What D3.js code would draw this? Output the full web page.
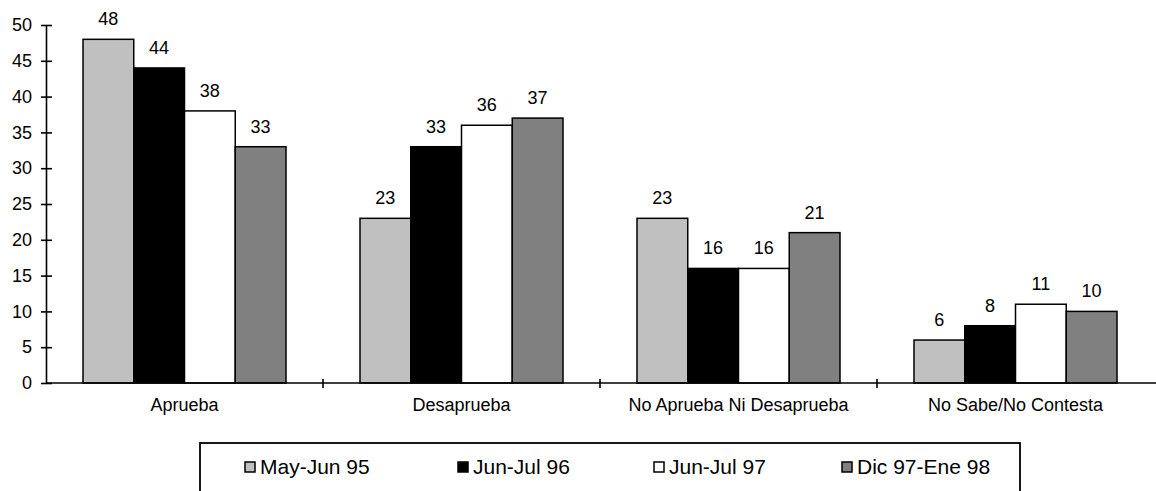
<!DOCTYPE html>
<html><head><meta charset="utf-8">
<script src="https://cdn.jsdelivr.net/npm/d3@7"></script>
<style>body{margin:0;background:#fff}svg{display:block;font-family:"Liberation Sans",Arial,sans-serif}</style>
</head><body>
<svg id="c" width="1156" height="491"></svg>
<script>
const categories = ["Aprueba","Desaprueba","No Aprueba Ni Desaprueba","No Sabe/No Contesta"];
const seriesNames = ["May-Jun 95","Jun-Jul 96","Jun-Jul 97","Dic 97-Ene 98"];
const seriesColors = ["#c0c0c0","#000000","#ffffff","#808080"];
const mayJun95 = [48,23,23,6];
const junJul96 = [44,33,16,8];
const junJul97 = [38,36,16,11];
const dic97Ene98 = [33,37,21,10];
const yTicks = [0,5,10,15,20,25,30,35,40,45,50];
const seriesValues = [mayJun95,junJul96,junJul97,dic97Ene98];

const svg = d3.select("#c");
const x = d3.scaleBand().domain(categories).range([46,1154]).padding(0);
const bw = x.bandwidth();
const xi = d3.scaleBand().domain(seriesNames).range([37, bw-37]).padding(0);
const y = d3.scaleLinear().domain([0,50]).range([383,25]);

// bars
categories.forEach((c,ci)=>{
  const g = svg.append("g").attr("transform",`translate(${x(c)},0)`);
  seriesNames.forEach((s,si)=>{
    const v = seriesValues[si][ci];
    g.append("rect").attr("x",xi(s)).attr("y",y(v)).attr("width",xi.bandwidth()).attr("height",y(0)-y(v))
      .attr("fill",seriesColors[si]).attr("stroke","#000").attr("stroke-width",1.5);
    g.append("text").attr("x",xi(s)+xi.bandwidth()/2).attr("y",y(v)-14).attr("text-anchor","middle")
      .attr("font-size",18).text(v);
  });
});

// y axis
const yAxis = d3.axisLeft(y).tickValues(yTicks).tickSizeInner(5).tickSizeOuter(0).tickPadding(9);
const ya = svg.append("g").attr("transform","translate(46,0)").call(yAxis);
ya.select(".domain").attr("stroke","#000").attr("stroke-width",1.6);
ya.selectAll(".tick line").attr("x1",-5).attr("x2",6).attr("stroke-width",1.6);
ya.selectAll(".tick text").attr("font-size",18).attr("font-family","Liberation Sans, Arial, sans-serif").attr("fill","#000");

// x axis
svg.append("line").attr("x1",46).attr("x2",1156).attr("y1",y(0)).attr("y2",y(0)).attr("stroke","#000").attr("stroke-width",1.6);
categories.slice(1).forEach(c=>{
  svg.append("line").attr("x1",x(c)).attr("x2",x(c)).attr("y1",y(0)-4).attr("y2",y(0)+5).attr("stroke","#000").attr("stroke-width",1.6);
});
categories.forEach(c=>{
  svg.append("text").attr("x",x(c)+bw/2).attr("y",411).attr("text-anchor","middle").attr("font-size",18).text(c);
});

// legend
svg.append("rect").attr("x",200).attr("y",443).attr("width",820).attr("height",70).attr("fill","#fff").attr("stroke","#000").attr("stroke-width",1.8);
const legendX = [244,457,653,841];
seriesNames.forEach((s,i)=>{
  svg.append("rect").attr("x",legendX[i]+1).attr("y",462).attr("width",10).attr("height",10)
    .attr("fill",seriesColors[i]).attr("stroke","#000").attr("stroke-width",1.5);
  svg.append("text").attr("x",legendX[i]+16).attr("y",474).attr("font-size",21).text(s);
});
</script>
</body></html>
